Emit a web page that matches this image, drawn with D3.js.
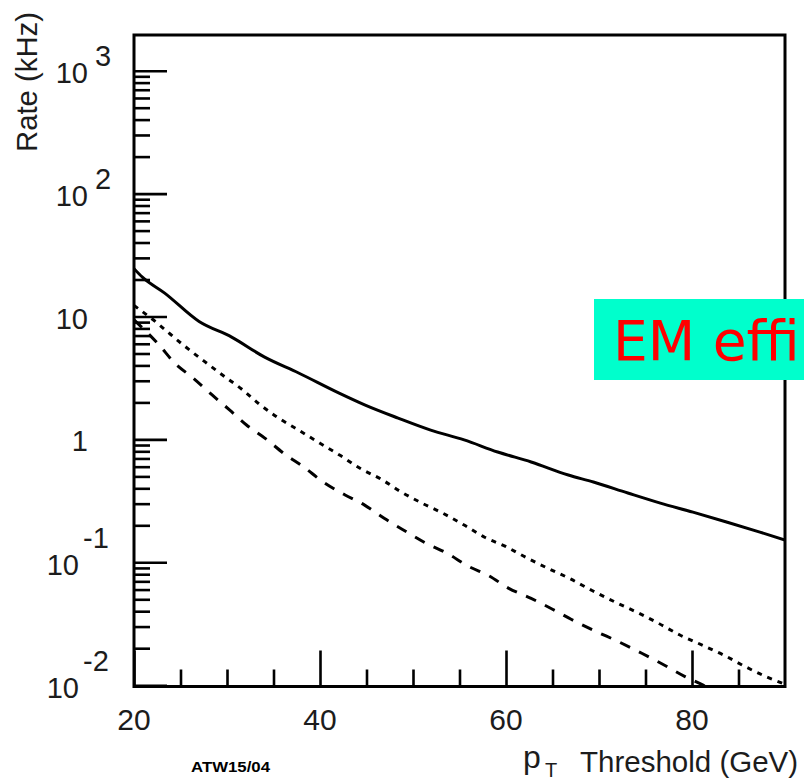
<!DOCTYPE html>
<html>
<head>
<meta charset="utf-8">
<script src="https://cdn.jsdelivr.net/npm/d3@7"></script>
<style>
  html, body { margin: 0; padding: 0; background: #ffffff; overflow: hidden; }
  svg { display: block; }
</style>
</head>
<body>
<svg id="chart" width="804" height="783"></svg>
<script>
// ---------------- data ----------------
const xDomain = [20, 90];
const yDomain = [0.00976, 1952];
const xMajorTicks = [20, 40, 60, 80];
const xMinorTicks = [25, 30, 35, 45, 50, 55, 65, 70, 75, 85];
const yMajorTicks = [0.01, 0.1, 1, 10, 100, 1000];

const solidX = [20, 20.9, 23.3, 27, 30.5, 34, 37.7, 42, 44.8, 48.4, 51.9, 55.5, 59.1, 62.7, 66.7, 69.4, 73.1, 76.6, 80.1, 83.8, 87.3, 90];
const solidY = [24.5, 20.9, 15.5, 9.1, 6.8, 4.69, 3.47, 2.39, 1.91, 1.49, 1.19, 0.99, 0.79, 0.655, 0.513, 0.45, 0.366, 0.303, 0.256, 0.212, 0.176, 0.152];

const dottedX = [20, 22.5, 23.5, 25.3, 27.5, 29.4, 31.6, 33.5, 35.5, 37.7, 40, 42.1, 44.3, 46.6, 48.7, 51, 53.2, 55.5, 57.7, 60, 62.3, 64.5, 66.8, 69.3, 72, 74.3, 76.4, 78.7, 81.1, 83.4, 85.7, 88, 90];
const dottedY = [12.3, 8.83, 7.62, 5.86, 4.35, 3.39, 2.56, 1.93, 1.50, 1.19, 0.93, 0.746, 0.582, 0.473, 0.375, 0.302, 0.251, 0.201, 0.160, 0.134, 0.108, 0.0894, 0.0741, 0.0587, 0.0464, 0.0385, 0.0319, 0.0256, 0.0212, 0.0176, 0.0142, 0.0117, 0.0102];

const dashedX = [20, 22.7, 24.4, 26.4, 28.4, 30.3, 32.1, 34.1, 36.2, 38.2, 40.3, 42.7, 44.8, 46.9, 49.3, 51.4, 53.7, 55.9, 58.2, 60.3, 62.7, 65, 67, 69.5, 72.1, 74.6, 77, 79.3, 81.2, 82];
const dashedY = [9.4, 5.86, 4.16, 3.14, 2.30, 1.73, 1.31, 1.02, 0.760, 0.600, 0.453, 0.353, 0.292, 0.228, 0.177, 0.143, 0.118, 0.0933, 0.0774, 0.0614, 0.0509, 0.0415, 0.0344, 0.0278, 0.0226, 0.0182, 0.0146, 0.0117, 0.0100, 0.0093];

const yTitle = "Rate (kHz)";
const xTitleMain = "Threshold (GeV)";
const stamp = "ATW15/04";
const boxLabel = "EM effi";

// ---------------- layout ----------------
const plot = { left: 134, right: 785, top: 35, bottom: 686.5 };
const svg = d3.select("#chart");
const x = d3.scaleLinear().domain(xDomain).range([plot.left, plot.right]);
const y = d3.scaleLog().domain(yDomain).range([plot.bottom, plot.top]);

const font = "'Liberation Sans', Arial, Helvetica, sans-serif";
const textColor = "#1c1c1c";

// clip
svg.append("defs").append("clipPath").attr("id", "plotclip")
  .append("rect")
  .attr("x", plot.left).attr("y", plot.top)
  .attr("width", plot.right - plot.left).attr("height", plot.bottom - plot.top);

// ---------------- curves ----------------
const line = d3.line()
  .x(d => x(d[0])).y(d => y(d[1]))
  .curve(d3.curveMonotoneX);

const series = [
  { xs: solidX, ys: solidY, dash: null, w: 3 },
  { xs: dottedX, ys: dottedY, dash: "5,6", w: 3 },
  { xs: dashedX, ys: dashedY, dash: "11,10", w: 3 }
];
const gCurves = svg.append("g").attr("clip-path", "url(#plotclip)");
gCurves.selectAll("path").data(series).join("path")
  .attr("d", s => line(s.xs.map((v, i) => [v, s.ys[i]])))
  .attr("fill", "none")
  .attr("stroke", "#000")
  .attr("stroke-width", s => s.w)
  .attr("stroke-dasharray", s => s.dash);

// ---------------- axes ticks ----------------
const yMinor = y.ticks().filter(t => !yMajorTicks.some(m => Math.abs(m - t) / m < 1e-6));

function styleAxis(g) {
  g.select(".domain").remove();
  g.selectAll("text").remove();
  g.selectAll("line").attr("stroke", "#000").attr("stroke-width", 2.6);
}

svg.append("g").attr("transform", `translate(${plot.left},0)`)
  .call(d3.axisLeft(y).tickValues(yMajorTicks).tickSize(-33))
  .call(styleAxis);
svg.append("g").attr("transform", `translate(${plot.left},0)`)
  .call(d3.axisLeft(y).tickValues(yMinor).tickSize(-16))
  .call(styleAxis);
svg.append("g").attr("transform", `translate(0,${plot.bottom})`)
  .call(d3.axisBottom(x).tickValues(xMajorTicks).tickSize(-36))
  .call(styleAxis);
svg.append("g").attr("transform", `translate(0,${plot.bottom})`)
  .call(d3.axisBottom(x).tickValues(xMinorTicks).tickSize(-17))
  .call(styleAxis);

// frame
svg.append("rect")
  .attr("x", plot.left).attr("y", plot.top)
  .attr("width", plot.right - plot.left).attr("height", plot.bottom - plot.top)
  .attr("fill", "none").attr("stroke", "#000").attr("stroke-width", 3);

// ---------------- tick labels ----------------
const gYL = svg.append("g").attr("font-family", font).attr("font-size", 29).attr("fill", textColor);
yMajorTicks.forEach(t => {
  const e = Math.round(Math.log10(t));
  const yy = y(t);
  if (e === 0 || e === 1) {
    gYL.append("text").attr("x", 88).attr("y", yy + 12).attr("text-anchor", "end")
      .text(e === 0 ? "1" : "10");
  } else {
    const neg = e < 0;
    gYL.append("text").attr("x", neg ? 79 : 88).attr("y", yy + 12.5).attr("text-anchor", "end").text("10");
    gYL.append("text").attr("x", neg ? 83 : 95).attr("y", yy + 12.5 - (neg ? 27 : 17)).text(String(e));
  }
});

svg.append("g").attr("font-family", font).attr("font-size", 30).attr("fill", textColor)
  .selectAll("text").data(xMajorTicks).join("text")
  .attr("x", d => x(d)).attr("y", 730).attr("text-anchor", "middle")
  .text(d => d);

// ---------------- titles ----------------
svg.append("text")
  .attr("transform", "translate(37,82) rotate(-90)")
  .attr("text-anchor", "middle")
  .attr("font-family", font).attr("font-size", 29).attr("fill", textColor)
  .attr("textLength", 140).attr("lengthAdjust", "spacingAndGlyphs")
  .text(yTitle);

const xt = svg.append("g").attr("font-family", font).attr("fill", textColor);
xt.append("text").attr("x", 523).attr("y", 768).attr("font-size", 32).text("p");
xt.append("text").attr("x", 545).attr("y", 777).attr("font-size", 20).text("T");
xt.append("text").attr("x", 580).attr("y", 772).attr("font-size", 29.5)
  .text(xTitleMain);

svg.append("text").attr("x", 191).attr("y", 772)
  .attr("font-family", font).attr("font-size", 14).attr("font-weight", "bold").attr("fill", "#000")
  .attr("textLength", 79).attr("lengthAdjust", "spacingAndGlyphs")
  .text(stamp);

// ---------------- overlay label box ----------------
svg.append("rect").attr("x", 594).attr("y", 299).attr("width", 210).attr("height", 81)
  .attr("fill", "#00ffcc");
svg.append("text").attr("x", 613).attr("y", 360)
  .attr("font-family", "'DejaVu Sans', Verdana, sans-serif").attr("font-size", 55)
  .attr("fill", "#ff0000")
  .text(boxLabel);
</script>
</body>
</html>
